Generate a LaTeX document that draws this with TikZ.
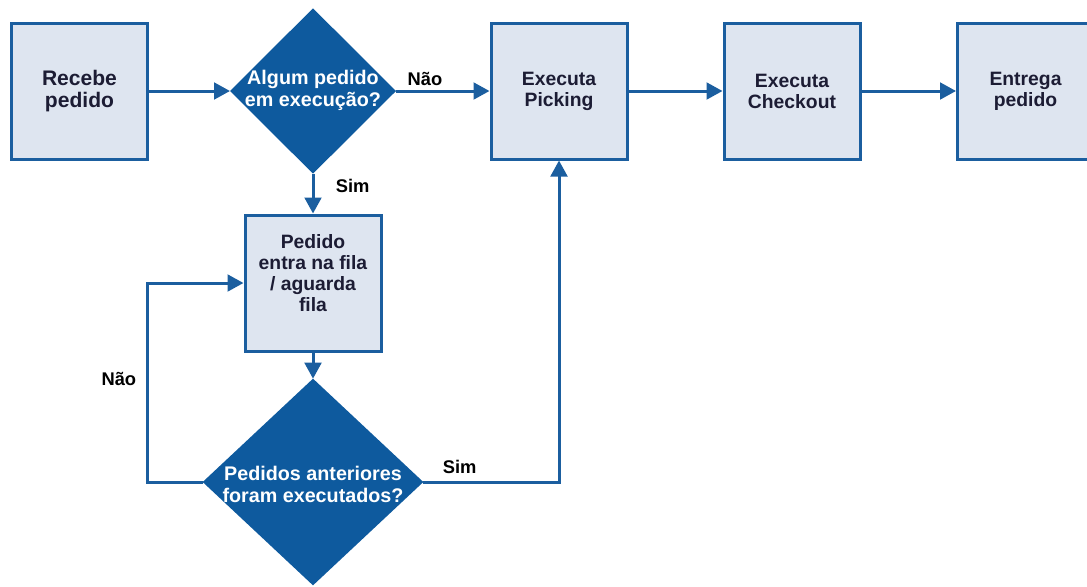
\documentclass[tikz,border=0pt]{standalone}
\usepackage{fontspec}
\setmainfont{Liberation Sans}
\usepackage{tikz}
\usetikzlibrary{shapes}
\usetikzlibrary{arrows.meta}

\definecolor{flowblue}{HTML}{1B5E9F}
\definecolor{decblue}{HTML}{0E5A9E}
\definecolor{boxfill}{HTML}{DEE5F0}
\definecolor{boxink}{HTML}{1C1C34}

\begin{document}
\begin{tikzpicture}[x = 0.75pt, y = -0.75pt,
    flow/.style = {draw = flowblue, line width = 2.25pt, -{Triangle[length = 12pt, width = 12.5pt]}},
    procbox/.style = {draw = flowblue, fill = boxfill, line width = 2.25pt, minimum width = 102pt, minimum height = 102pt, inner sep = 0pt},
    decision/.style = {diamond, fill = decblue, inner sep = 0pt, outer sep = 0pt},
    boxtext/.style = {text = boxink, font = \fontsize{14.5}{15.75}\selectfont\bfseries, align = center, inner sep = 0pt},
    dectext/.style = {text = white, font = \fontsize{14.8}{16.5}\selectfont\bfseries, align = center, inner sep = 0pt},
    answer/.style = {text = black, font = \fontsize{13.75}{15}\selectfont\bfseries, inner sep = 2pt}]
    \useasboundingbox (0, 0) rectangle (1087, 586);

    % draw boxes
    \node[procbox, boxtext, font = \fontsize{15.8}{16.3}\selectfont\bfseries] (recebe) at (79.5, 91) {Recebe\\pedido};
    \node[procbox, boxtext] (picking) at (559, 91) {Executa\\Picking};
    \node[procbox, boxtext] (checkout) at (792, 91) {Executa\\Checkout};
    \node[procbox, boxtext] (entrega) at (1025.5, 91) {Entrega\\pedido};
    \node[procbox] (fila) at (313, 283) {};
    \node[boxtext, anchor = north] (filatext) at (313, 234) {Pedido\\entra na fila\\/ aguarda\\fila};

    % draw decisions
    \node[decision, minimum width = 124.5pt, minimum height = 124pt] (algum) at (313, 91) {};
    \node[dectext] (algumtext) at (313, 90) {Algum pedido\\em execução?};
    \node[decision, minimum width = 165.5pt, minimum height = 155pt] (anteriores) at (313, 482) {};
    \node[dectext] (anterioresText) at (313, 484) {Pedidos anteriores\\foram executados?};

    % draw arrows
    \draw[flow] (recebe.east) -- (algum.west);
    \draw[flow] (algum.east) -- node[answer, pos = 0.31, above = 1pt] (algumnao) {Não} (picking.west);
    \draw[flow] (algum.south) -- node[answer, pos = 0.3, right = 14pt] (algumsim) {Sim} (fila.north);
    \draw[flow] (fila.south) -- (anteriores.north);
    \draw[flow] (anteriores.west) -- ++(-55, 0) |- node[answer, pos = 0.26, left = 5.5pt] (anterioresnao) {Não} (fila.west);
    \draw[flow] (anteriores.east) -| node[answer, pos = 0.134, above = 3.25pt] (anterioressim) {Sim} (picking.south);
    \draw[flow] (picking.east) -- (checkout.west);
    \draw[flow] (checkout.east) -- (entrega.west);
\end{tikzpicture}
\end{document}
